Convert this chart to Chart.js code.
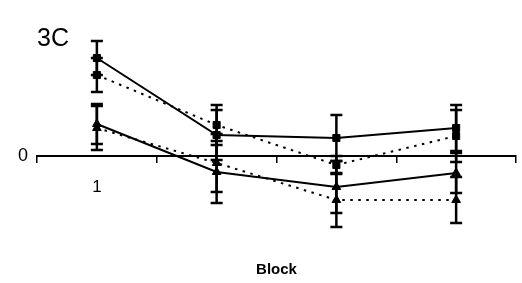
<!DOCTYPE html>
<html><head><meta charset="utf-8">
<script src="https://cdn.jsdelivr.net/npm/chart.js@4"></script>
<style>html,body{margin:0;padding:0;background:#fff}</style>
</head><body>
<canvas id="c" width="522" height="283"></canvas>
<script>
const categories = ['1', '2', '3', '4'];
const tickLabels = ['1', '', '', ''];
const yTickValues = [0];
const solidSquares = [9.8, 2.1, 1.8, 2.8];
const solidSquaresErr = [1.7, 2.5, 2.3, 2.3];
const dottedSquares = [8.1, 3.1, -0.9, 2.0];
const dottedSquaresErr = [1.7, 2.0, 0.9, 2.6];
const solidTriangles = [3.2, -1.6, -3.1, -1.7];
const solidTrianglesErr = [2.0, 3.1, 2.6, 2.0];
const dottedTriangles = [2.8, -0.7, -4.4, -4.4];
const dottedTrianglesErr = [2.2, 2.9, 2.7, 2.3];

const errorBars = {
  id: 'errorBars',
  beforeDatasetsDraw(chart) {
    const ctx = chart.ctx, y = chart.scales.y;
    chart.data.datasets.forEach((ds, i) => {
      const meta = chart.getDatasetMeta(i);
      meta.data.forEach((pt, j) => {
        const v = ds.data[j], e = ds.errors[j];
        const yt = y.getPixelForValue(v + e), yb = y.getPixelForValue(v - e);
        ctx.save();
        ctx.strokeStyle = '#000';
        ctx.lineWidth = 2.5;
        ctx.beginPath();
        ctx.moveTo(pt.x, yt); ctx.lineTo(pt.x, yb);
        ctx.moveTo(pt.x - 6, yt); ctx.lineTo(pt.x + 6, yt);
        ctx.moveTo(pt.x - 6, yb); ctx.lineTo(pt.x + 6, yb);
        ctx.stroke();
        ctx.restore();
      });
    });
  }
};

function ds(data, errors, dotted, style) {
  return {
    data, errors,
    borderColor: '#000', backgroundColor: '#000',
    borderWidth: 2,
    borderDash: dotted ? [2.5, 5.5] : [],
    pointStyle: style, pointRadius: 5,
    pointBorderWidth: 1,
    fill: false, tension: 0, clip: false
  };
}

new Chart(document.getElementById('c'), {
  type: 'line',
  data: {
    labels: categories,
    datasets: [
      ds(solidSquares, solidSquaresErr, false, 'rect'),
      ds(dottedSquares, dottedSquaresErr, true, 'rect'),
      ds(solidTriangles, solidTrianglesErr, false, 'triangle'),
      ds(dottedTriangles, dottedTrianglesErr, true, 'triangle')
    ]
  },
  options: {
    responsive: false,
    animation: false,
    devicePixelRatio: 1,
    layout: { padding: { left: 0, right: 5, top: 12, bottom: 0 } },
    plugins: {
      legend: { display: false },
      tooltip: { enabled: false },
      title: {
        display: true, text: '3C', align: 'start', fullSize: false, color: '#000',
        font: { family: 'Liberation Sans', size: 25, weight: 'normal' },
        padding: { top: 12, bottom: 0 }
      },
      subtitle: {
        display: true, position: 'bottom', fullSize: false, text: 'Block', color: '#000',
        font: { family: 'Liberation Sans', size: 15, weight: 'bold' },
        padding: { top: 0, bottom: 4 }
      }
    },
    scales: {
      x: {
        type: 'category', offset: true, position: { y: 0 },
        afterFit(s) { s.height = 0; },
        grid: { display: true, drawOnChartArea: false, drawTicks: true, tickLength: 6, color: '#000', lineWidth: 1.5, offset: true },
        border: { display: true, color: '#000', width: 2 },
        ticks: {
          padding: 15, color: '#000', maxRotation: 0, autoSkip: false,
          font: { family: 'Liberation Sans', size: 17 },
          callback: (v, i) => tickLabels[i]
        }
      },
      y: {
        min: -10.5, max: 10.2,
        afterFit(s) { s.width = 37; },
        afterBuildTicks(s) { s.ticks = yTickValues.map(v => ({ value: v })); },
        grid: { display: false, drawTicks: false },
        border: { display: false },
        ticks: {
          padding: 9, color: '#000', autoSkip: false,
          font: { family: 'Liberation Sans', size: 18 },
          callback: (v) => String(v)
        }
      }
    }
  },
  plugins: [errorBars]
});
</script>
</body></html>
